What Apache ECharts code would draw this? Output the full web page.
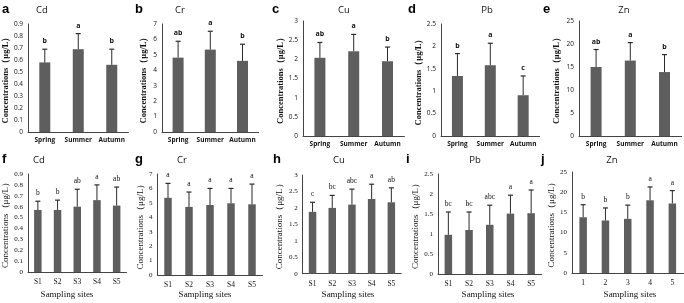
<!DOCTYPE html>
<html>
<head>
<meta charset="utf-8">
<script src="https://cdn.jsdelivr.net/npm/echarts@6/dist/echarts.min.js"></script>
<style>
  html, body { margin: 0; padding: 0; background: #fff; }
  #chart { width: 684px; height: 303px; }
</style>
</head>
<body>
<div id="chart"></div>
<script>
// categories
const seasons = ['Spring', 'Summer', 'Autumn'];
const sites = ['S1', 'S2', 'S3', 'S4', 'S5'];
const sitesZn = ['1', '2', '3', '4', '5'];
const metals = ['Cd', 'Cr', 'Cu', 'Pb', 'Zn'];

// y axis ranges per metal
const yMax = [0.9, 7, 3, 2.5, 25];
const yStep = [0.1, 1, 0.5, 0.5, 5];

// seasonal means, upper error bar ends, significance letters (a-e)
const cdSeasonMean = [0.58, 0.69, 0.56];
const cdSeasonUpper = [0.69, 0.82, 0.69];
const cdSeasonSig = ['b', 'a', 'b'];
const crSeasonMean = [4.82, 5.34, 4.61];
const crSeasonUpper = [5.88, 6.53, 5.69];
const crSeasonSig = ['ab', 'a', 'b'];
const cuSeasonMean = [2.04, 2.21, 1.95];
const cuSeasonUpper = [2.44, 2.65, 2.32];
const cuSeasonSig = ['ab', 'a', 'b'];
const pbSeasonMean = [1.34, 1.58, 0.91];
const pbSeasonUpper = [1.84, 2.07, 1.34];
const pbSeasonSig = ['b', 'a', 'c'];
const znSeasonMean = [15.0, 16.4, 13.9];
const znSeasonUpper = [18.8, 20.3, 17.7];
const znSeasonSig = ['ab', 'a', 'b'];

// site means, upper error bar ends, letters (f-j)
const cdSiteMean = [0.57, 0.57, 0.60, 0.66, 0.61];
const cdSiteUpper = [0.65, 0.66, 0.76, 0.80, 0.78];
const cdSiteSig = ['b', 'b', 'ab', 'a', 'ab'];
const crSiteMean = [5.35, 4.72, 4.85, 4.97, 4.9];
const crSiteUpper = [6.35, 5.75, 6.0, 6.0, 6.3];
const crSiteSig = ['a', 'a', 'a', 'a', 'a'];
const cuSiteMean = [1.88, 2.0, 2.1, 2.27, 2.17];
const cuSiteUpper = [2.17, 2.38, 2.57, 2.72, 2.61];
const cuSiteSig = ['c', 'bc', 'abc', 'a', 'ab'];
const pbSiteMean = [0.98, 1.1, 1.23, 1.51, 1.52];
const pbSiteUpper = [1.55, 1.55, 1.72, 1.97, 2.1];
const pbSiteSig = ['bc', 'bc', 'abc', 'a', 'a'];
const znSiteMean = [13.8, 13.0, 13.4, 18.0, 17.2];
const znSiteUpper = [16.9, 16.1, 16.8, 21.3, 20.4];
const znSiteSig = ['b', 'b', 'b', 'a', 'a'];

const panelLetters = ['a', 'b', 'c', 'd', 'e', 'f', 'g', 'h', 'i', 'j'];
const yName = 'Concentrations（μg/L）';
const xName = 'Sampling sites';

const seasonMeans = [cdSeasonMean, crSeasonMean, cuSeasonMean, pbSeasonMean, znSeasonMean];
const seasonUppers = [cdSeasonUpper, crSeasonUpper, cuSeasonUpper, pbSeasonUpper, znSeasonUpper];
const seasonSigs = [cdSeasonSig, crSeasonSig, cuSeasonSig, pbSeasonSig, znSeasonSig];
const siteMeans = [cdSiteMean, crSiteMean, cuSiteMean, pbSiteMean, znSiteMean];
const siteUppers = [cdSiteUpper, crSiteUpper, cuSiteUpper, pbSiteUpper, znSiteUpper];
const siteSigs = [cdSiteSig, crSiteSig, cuSiteSig, pbSiteSig, znSiteSig];

// layout: grid [left, top, width, height], name gap, title x, letter x, x-name x
const layout = [
  { g: [28, 24, 100.5, 108], ng: 16, tx: 42, lx: 2 },
  { g: [162, 24, 96.6, 108], ng: 14, tx: 180, lx: 135 },
  { g: [303, 21, 101.4, 115], ng: 15, tx: 344, lx: 272 },
  { g: [441, 24, 98.6, 112], ng: 17, tx: 487, lx: 408 },
  { g: [579, 21, 102.6, 115], ng: 18, tx: 624, lx: 543 },
  { g: [28, 174, 98.5, 98], ng: 17, tx: 39, lx: 2, sx: 67 },
  { g: [157.5, 174, 105, 101], ng: 12, tx: 182, lx: 135, sx: 205 },
  { g: [302.7, 175, 98.5, 98.7], ng: 19, tx: 339, lx: 273, sx: 348 },
  { g: [438, 174, 103.5, 100], ng: 17, tx: 475, lx: 406, sx: 488 },
  { g: [572, 172, 111.5, 101], ng: 14, tx: 612, lx: 541, sx: 630 }
];

const sansFont = 'Open Sans';
const serifFont = 'Liberation Serif';
const barColor = '#5e5e5e';
const errColor = '#2b2b2b';

const grids = [], xAxes = [], yAxes = [], series = [], graphics = [];

for (let p = 0; p < 10; p++) {
  const top = p < 5;
  const m = p % 5;
  const L = layout[p];
  const cats = top ? seasons : (m === 4 ? sitesZn : sites);
  const means = top ? seasonMeans[m] : siteMeans[m];
  const uppers = top ? seasonUppers[m] : siteUppers[m];
  const sigs = top ? seasonSigs[m] : siteSigs[m];
  const labelFont = top ? sansFont : serifFont;

  grids.push({ left: L.g[0], top: L.g[1], width: L.g[2], height: L.g[3] });
  xAxes.push({
    type: 'category', gridIndex: p, data: cats,
    axisLine: { lineStyle: { color: '#444', width: 1 } },
    axisTick: { show: false },
    axisLabel: {
      fontFamily: labelFont, fontSize: top ? 6.5 : 7.5, color: '#111',
      fontWeight: top ? 'bold' : 'normal', margin: top ? 5 : 6, interval: 0
    }
  });
  yAxes.push({
    type: 'value', gridIndex: p, min: 0, max: yMax[m], interval: yStep[m],
    splitLine: { show: false },
    axisLine: { show: true, lineStyle: { color: '#444', width: 1 } },
    axisTick: { show: false },
    axisLabel: { fontFamily: labelFont, fontSize: top ? 6.5 : 7, color: '#111', margin: 5 },
    name: yName, nameLocation: 'middle', nameGap: L.ng,
    nameTextStyle: {
      fontFamily: serifFont, fontSize: top ? 8.5 : 9,
      fontWeight: top ? 'bold' : 'normal', color: '#111'
    }
  });
  series.push({
    type: 'bar', xAxisIndex: p, yAxisIndex: p, data: means,
    barWidth: top ? 11 : 7.5, itemStyle: { color: barColor }, silent: true
  });
  series.push({
    type: 'custom', xAxisIndex: p, yAxisIndex: p,
    data: means.map((v, i) => [i, v, uppers[i]]),
    renderItem: function (params, api) {
      const base = api.coord([api.value(0), api.value(1)]);
      const end = api.coord([api.value(0), api.value(2)]);
      return {
        type: 'group',
        children: [
          { type: 'line', shape: { x1: base[0], y1: base[1], x2: end[0], y2: end[1] },
            style: { stroke: errColor, lineWidth: 1 } },
          { type: 'line', shape: { x1: end[0] - 2.5, y1: end[1], x2: end[0] + 2.5, y2: end[1] },
            style: { stroke: errColor, lineWidth: 1.2 } },
          { type: 'text', x: end[0], y: end[1] - 8,
            style: { text: sigs[params.dataIndex], align: 'center', verticalAlign: 'middle',
              fontFamily: top ? sansFont : serifFont, fontSize: top ? 7 : 7.5,
              fontWeight: top ? 'bold' : 'normal', fill: '#111' } }
        ]
      };
    },
    silent: true, z: 5
  });

  const ty = top ? 10 : 160;
  graphics.push({ type: 'text', x: L.tx, y: ty,
    style: { text: metals[m], align: 'center', verticalAlign: 'middle',
      fontFamily: sansFont, fontSize: 9.5, fill: '#111' } });
  graphics.push({ type: 'text', x: L.lx, y: ty - 1,
    style: { text: panelLetters[p], align: 'left', verticalAlign: 'middle',
      fontFamily: 'Liberation Sans', fontSize: 13, fontWeight: 'bold', fill: '#000' } });
  if (!top) {
    graphics.push({ type: 'text', x: L.sx, y: 295,
      style: { text: xName, align: 'center', verticalAlign: 'middle',
        fontFamily: serifFont, fontSize: 9, fill: '#111' } });
  }
}

const chart = echarts.init(document.getElementById('chart'));
chart.setOption({
  animation: false,
  backgroundColor: '#fff',
  grid: grids,
  xAxis: xAxes,
  yAxis: yAxes,
  series: series,
  graphic: graphics
});
</script>
</body>
</html>
